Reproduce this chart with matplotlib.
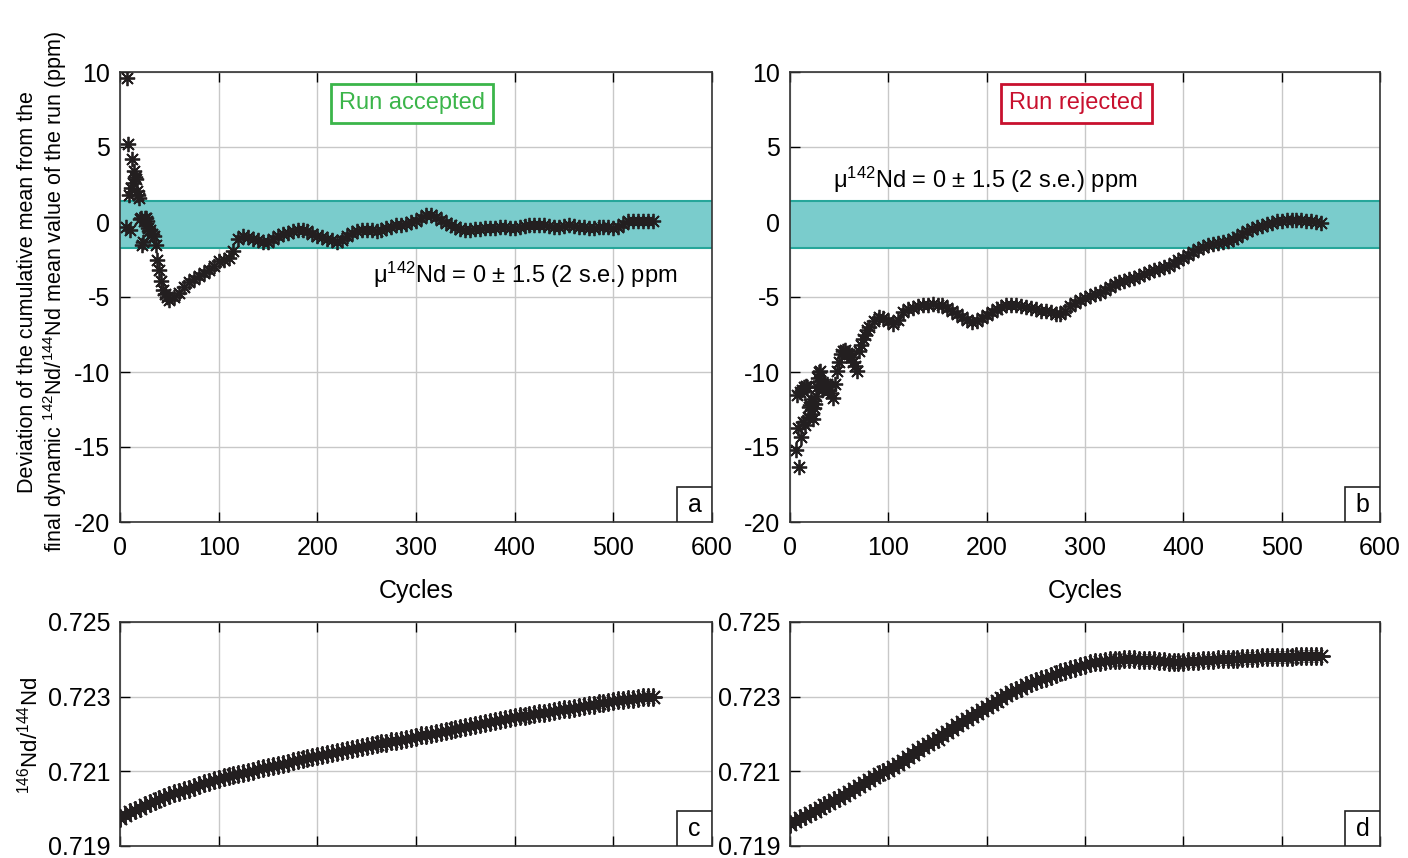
import numpy as np
import matplotlib
matplotlib.use("Agg")
import matplotlib.pyplot as plt
from matplotlib.patches import Rectangle

plt.rcParams['font.family'] = ['Liberation Sans', 'DejaVu Sans']
plt.rcParams['axes.unicode_minus'] = False

# ---- panel a : run accepted, deviation of cumulative mean (ppm)
cycles_a = [6, 7, 8, 9, 10, 11, 12, 13, 14, 15, 16, 17, 18, 19, 20, 21, 22, 23, 24, 25,
            26, 27, 28, 29, 30, 32, 34, 36, 38, 40, 42, 44, 46, 48,
            50, 55, 60, 65, 70, 75, 80, 85, 90, 95, 100, 105, 110, 115, 120, 125, 130,
            135, 140, 145, 150, 155, 160, 165, 170, 175, 180, 185, 190, 195, 200, 205,
            210, 215, 220, 225, 230, 235, 240, 245, 250, 255, 260, 265, 270, 275, 280,
            285, 290, 295, 300, 305, 310, 315, 320, 325, 330, 335, 340, 345, 350, 355,
            360, 365, 370, 375, 380, 385, 390, 395, 400, 405, 410, 415, 420, 425, 430,
            435, 440, 445, 450, 455, 460, 465, 470, 475, 480, 485, 490, 495, 500, 505,
            510, 515, 520, 525, 530, 535, 540]
dev_a = [-0.3, 9.6, 5.2, 1.8, -0.5, 2.3, 4.2, 2.6, 3.4, 3.0, 2.9, 2.1, 1.8, 1.6, 0.2, 0.3,
         -1.5, -1.3, 0.1, 0.3, 0.3, 0.1, -0.4, -0.6, -0.5, -0.8, -0.9, -1.5, -2.5, -3.2,
         -3.9, -4.5, -4.8, -5.0,
         -5.2, -5.0, -4.7, -4.3, -4.0, -3.8, -3.6, -3.4, -3.2, -2.9, -2.6, -2.5, -2.4,
         -1.9, -1.1, -0.9, -1.0, -1.1, -1.2, -1.3, -1.3, -1.1, -0.9, -0.8, -0.7, -0.6,
         -0.5, -0.5, -0.6, -0.8, -0.9, -1.0, -1.1, -1.2, -1.3, -1.2, -0.9, -0.7, -0.6,
         -0.55, -0.5, -0.55, -0.6, -0.5, -0.4, -0.3, -0.2, -0.2, -0.1, 0.0, 0.1, 0.3,
         0.45, 0.5, 0.35, 0.15, -0.05, -0.2, -0.35, -0.45, -0.5, -0.5, -0.45, -0.45,
         -0.4, -0.4, -0.4, -0.35, -0.35, -0.4, -0.4, -0.3, -0.25, -0.2, -0.2, -0.2,
         -0.2, -0.25, -0.3, -0.3, -0.25, -0.2, -0.25, -0.3, -0.35, -0.4, -0.4, -0.35,
         -0.3, -0.35, -0.4, -0.3, -0.1, 0.05, 0.1, 0.1, 0.05, 0.05, 0.05]

# ---- panel b : run rejected
cycles_b = [6, 7, 8, 9, 10, 11, 12, 13, 14, 15, 16, 17, 18, 19, 20, 21, 22, 23, 24, 25,
            26, 27, 28, 29, 30, 31, 32, 33, 34, 35, 36, 37, 38, 39, 40, 42, 44, 46, 48,
            50, 52, 54, 56, 58, 60, 62, 64, 66, 68, 70, 72, 74, 76, 78, 80,
            85, 90, 95, 100, 105, 110, 115, 120, 125, 130, 135, 140, 145, 150, 155, 160,
            165, 170, 175, 180, 185, 190, 195, 200, 205, 210, 215, 220, 225, 230, 235,
            240, 245, 250, 255, 260, 265, 270, 275, 280, 285, 290, 295, 300, 305, 310,
            315, 320, 325, 330, 335, 340, 345, 350, 355, 360, 365, 370, 375, 380, 385,
            390, 395, 400, 405, 410, 415, 420, 425, 430, 435, 440, 445, 450, 455, 460,
            465, 470, 475, 480, 485, 490, 495, 500, 505, 510, 515, 520, 525, 530, 535, 540]
dev_b = [-15.2, -11.5, -13.7, -16.3, -11.3, -14.3, -11.2, -13.3, -11.0, -13.5, -10.9,
         -11.0, -13.0, -12.3, -12.2, -11.8, -12.8, -13.1, -12.4, -12.1, -11.6, -11.0,
         -10.4, -10.0, -9.9, -10.6, -10.8, -11.2, -11.0, -10.9, -11.0, -11.0, -10.8,
         -10.9, -11.2, -11.4, -11.7, -10.8, -9.9,
         -9.3, -8.8, -8.6, -8.5, -8.7, -8.8, -9.0, -9.3, -9.6, -9.9, -8.6, -8.2, -7.8,
         -7.5, -7.2, -7.0,
         -6.6, -6.3, -6.4, -6.6, -6.8, -6.5, -6.0, -5.8, -5.7, -5.6, -5.5, -5.5, -5.45,
         -5.5, -5.55, -5.7, -5.9, -6.1, -6.3, -6.5, -6.65, -6.6, -6.4, -6.2, -6.0, -5.8,
         -5.65, -5.55, -5.5, -5.55, -5.6, -5.65, -5.7, -5.8, -5.9, -5.95, -6.0, -6.15,
         -6.1, -5.9, -5.6, -5.4, -5.2, -5.05, -4.95, -4.8, -4.7, -4.5, -4.3, -4.1, -4.0,
         -3.9, -3.8, -3.7, -3.6, -3.45, -3.3, -3.2, -3.1, -3.0, -2.9, -2.7, -2.55, -2.4,
         -2.2, -2.0, -1.8, -1.65, -1.5, -1.45, -1.4, -1.35, -1.25, -1.15, -1.0, -0.8,
         -0.6, -0.45, -0.35, -0.25, -0.15, -0.05, 0.05, 0.1, 0.15, 0.15, 0.15, 0.15,
         0.1, 0.05, 0.0, -0.05]

# ---- panels c, d : 146Nd/144Nd raw ratio
cycles_cd = list(range(0, 545, 5))
ratio_c = [0.71975, 0.71983, 0.71990, 0.71997, 0.72003, 0.72009, 0.72015, 0.72021,
           0.72026, 0.72031, 0.72036, 0.72041, 0.72045, 0.72050, 0.72054, 0.72059,
           0.72063, 0.72068, 0.72072, 0.72076, 0.72080, 0.72084, 0.72087, 0.72090,
           0.72093, 0.72096, 0.72099, 0.72102, 0.72105, 0.72108, 0.72111, 0.72114,
           0.72117, 0.72120, 0.72123, 0.72127, 0.72130, 0.72133, 0.72136, 0.72139,
           0.72142, 0.72145, 0.72147, 0.72150, 0.72152, 0.72155, 0.72157, 0.72160,
           0.72162, 0.72165, 0.72167, 0.72170, 0.72172, 0.72175, 0.72177, 0.72180,
           0.72182, 0.72185, 0.72187, 0.72190, 0.72193, 0.72196, 0.72198, 0.72201,
           0.72203, 0.72206, 0.72208, 0.72211, 0.72213, 0.72216, 0.72218, 0.72221,
           0.72223, 0.72226, 0.72229, 0.72232, 0.72234, 0.72237, 0.72240, 0.72243,
           0.72245, 0.72247, 0.72249, 0.72251, 0.72253, 0.72255, 0.72257, 0.72259,
           0.72261, 0.72264, 0.72266, 0.72268, 0.72270, 0.72272, 0.72274, 0.72277,
           0.72279, 0.72282, 0.72284, 0.72287, 0.72289, 0.72291, 0.72292, 0.72294,
           0.72295, 0.72297, 0.72298, 0.72299, 0.72300]
ratio_d = [0.71960, 0.71967, 0.71974, 0.71981, 0.71988, 0.71995, 0.72002, 0.72009,
           0.72016, 0.72022, 0.72029, 0.72036, 0.72044, 0.72052, 0.72060, 0.72068,
           0.72076, 0.72084, 0.72092, 0.72098, 0.72104, 0.72112, 0.72120, 0.72129,
           0.72138, 0.72147, 0.72156, 0.72165, 0.72173, 0.72180, 0.72187, 0.72196,
           0.72205, 0.72214, 0.72223, 0.72231, 0.72240, 0.72249, 0.72257, 0.72265,
           0.72272, 0.72280, 0.72288, 0.72296, 0.72304, 0.72312, 0.72318, 0.72324,
           0.72330, 0.72336, 0.72341, 0.72346, 0.72351, 0.72356, 0.72361, 0.72366,
           0.72370, 0.72374, 0.72378, 0.72382, 0.72386, 0.72389, 0.72392, 0.72394,
           0.72396, 0.72397, 0.72398, 0.72399, 0.72400, 0.72400, 0.72400, 0.72399,
           0.72398, 0.72397, 0.72397, 0.72396, 0.72395, 0.72394, 0.72394, 0.72394,
           0.72394, 0.72395, 0.72396, 0.72396, 0.72397, 0.72398, 0.72399, 0.72400,
           0.72401, 0.72401, 0.72402, 0.72402, 0.72403, 0.72403, 0.72404, 0.72404,
           0.72405, 0.72405, 0.72405, 0.72406, 0.72406, 0.72407, 0.72407, 0.72408,
           0.72408, 0.72408, 0.72409, 0.72409, 0.72410]

band_lo, band_hi = -1.7, 1.4
dev_ticks = [-20, -15, -10, -5, 0, 5, 10]
ratio_ticks = [0.719, 0.721, 0.723, 0.725]
cycle_ticks = [0, 100, 200, 300, 400, 500, 600]

STAR = (8, 2, 0)
INK = '#231f20'
GREEN = '#3bb54a'
RED = '#c8102e'
TS = 18

fig = plt.figure(figsize=(14.08, 8.58), dpi=100)
W, H = 1408.0, 858.0


def make_ax(x0, x1, ytop, ybot):
    return fig.add_axes([x0 / W, 1 - ybot / H, (x1 - x0) / W, (ybot - ytop) / H])


ax_a = make_ax(120, 712, 72, 522)
ax_b = make_ax(790, 1380, 72, 522)
ax_c = make_ax(120, 712, 622, 846)
ax_d = make_ax(790, 1380, 622, 846)


def style(ax, letter):
    ax.grid(True, color='#c8c8c8', lw=1)
    ax.set_axisbelow(True)
    ax.tick_params(direction='in', length=7, width=1, top=True, right=False,
                   labelsize=TS, pad=7)
    ax.tick_params(axis='x', pad=10)
    for s in ax.spines.values():
        s.set_linewidth(1.2)
        s.set_color('#333333')
    ax.set_xlim(0, 600)
    ax.set_xticks(cycle_ticks)
    bw = 35 / (ax.get_position().width * W)
    bh = 35 / (ax.get_position().height * H)
    ax.add_patch(Rectangle((1 - bw, 0), bw, bh, transform=ax.transAxes, fc='white',
                           ec='#222222', lw=1.2, zorder=5))
    ax.text(1 - bw / 2, bh / 2, letter, transform=ax.transAxes, ha='center',
            va='center', fontsize=TS, zorder=6)


for ax, cyc, dev, letter in [(ax_a, cycles_a, dev_a, 'a'), (ax_b, cycles_b, dev_b, 'b')]:
    ax.axhspan(band_lo, band_hi, fc='#7acccc', ec='none', zorder=1)
    ax.axhline(band_lo, color='#26a69a', lw=1.5, zorder=1.5)
    ax.axhline(band_hi, color='#26a69a', lw=1.5, zorder=1.5)
    ax.plot(cyc, dev, ls='none', marker=STAR, ms=11, mew=1.3, color=INK, zorder=3)
    ax.set_ylim(-20, 10)
    ax.set_yticks(dev_ticks)
    style(ax, letter)
    ax.set_xlabel('Cycles', fontsize=TS, labelpad=14)

for ax, rat, letter in [(ax_c, ratio_c, 'c'), (ax_d, ratio_d, 'd')]:
    ax.plot(cycles_cd, rat, ls='none', marker=STAR, ms=13, mew=1.4, color=INK, zorder=3)
    ax.set_ylim(0.719, 0.725)
    ax.set_yticks(ratio_ticks)
    ax.set_yticklabels([f'{t:.3f}' for t in ratio_ticks])
    style(ax, letter)
    ax.tick_params(labelbottom=False)

ax_a.text(296, 7.9, 'Run accepted', color=GREEN, fontsize=TS - 1, ha='center', va='center',
          bbox=dict(boxstyle='square,pad=0.35', fc='white', ec=GREEN, lw=2), zorder=6)
ax_b.text(291, 7.9, 'Run rejected', color=RED, fontsize=TS - 1, ha='center', va='center',
          bbox=dict(boxstyle='square,pad=0.35', fc='white', ec=RED, lw=2), zorder=6)

band_txt = r'μ$\mathregular{^{142}}$Nd = 0 ± 1.5 (2 s.e.) ppm'
ax_a.text(256, -3.5, band_txt, fontsize=17, ha='left', va='center', zorder=6)
ax_b.text(44, 2.8, band_txt, fontsize=17, ha='left', va='center', zorder=6)

fig.text(28 / W, 1 - 292 / H, 'Deviation of the cumulative mean from the',
         rotation=90, ha='center', va='center', fontsize=15.5)
fig.text(55 / W, 1 - 292 / H,
         r'final dynamic $\mathregular{^{142}}$Nd/$\mathregular{^{144}}$Nd mean value of the run (ppm)',
         rotation=90, ha='center', va='center', fontsize=15.5)
fig.text(30 / W, 1 - 735 / H, r'$\mathregular{^{146}}$Nd/$\mathregular{^{144}}$Nd',
         rotation=90, ha='center', va='center', fontsize=16)

fig.savefig('out.png', dpi=100)
